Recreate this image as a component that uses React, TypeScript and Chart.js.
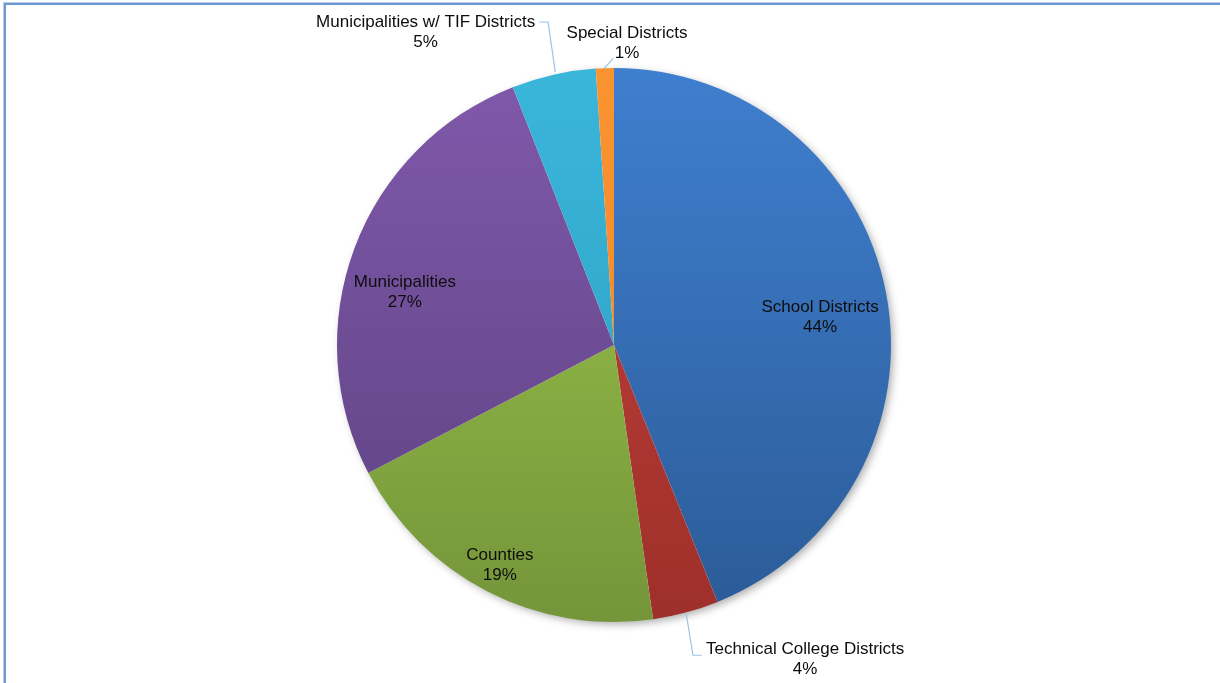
import React, { useEffect, useRef } from "react";
import { Chart, registerables } from "chart.js";

Chart.register(...registerables);

const categories: string[] = [
  "School Districts",
  "Technical College Districts",
  "Counties",
  "Municipalities",
  "Municipalities w/ TIF Districts",
  "Special Districts",
];
const shareValues: number[] = [43.9, 3.85, 19.6, 26.7, 4.9, 1.05];
const percentLabels: string[] = ["44%", "4%", "19%", "27%", "5%", "1%"];
const topColors: string[] = ["#3f7fcf", "#c5433e", "#9fc94c", "#8159ab", "#3ab6db", "#f99431"];
const bottomColors: string[] = ["#2b5b97", "#9e2f2a", "#74953a", "#5b4180", "#2c9cbd", "#ee8420"];

// label placement relative to pie centre, in units of radius
const labelPlacement = [
  { fx: 0.744, fy: -0.10, leader: null },
  { fx: 0.69, fy: 1.133, leader: [[0.26, 0.965], [0.285, 1.12], [0.317, 1.12]] },
  { fx: -0.412, fy: 0.795, leader: null },
  { fx: -0.755, fy: -0.19, leader: null },
  { fx: -0.68, fy: -1.128, leader: [[-0.212, -0.985], [-0.238, -1.166], [-0.27, -1.166]] },
  { fx: 0.047, fy: -1.09, leader: [[-0.036, -0.998], [-0.003, -1.035]] },
];

export default function App() {
  const canvasRef = useRef<HTMLCanvasElement | null>(null);

  useEffect(() => {
    const canvas = canvasRef.current;
    if (!canvas) return;

    const shadowPlugin = {
      id: "pieShadow",
      beforeDatasetsDraw(chart: any) {
        const arc = chart.getDatasetMeta(0).data[0];
        if (!arc) return;
        const { x, y, outerRadius } = arc;
        const ctx = chart.ctx;
        ctx.save();
        ctx.shadowColor = "rgba(0,0,0,0.35)";
        ctx.shadowBlur = 9;
        ctx.shadowOffsetX = 3;
        ctx.shadowOffsetY = 3;
        ctx.beginPath();
        ctx.arc(x, y, outerRadius - 1, 0, Math.PI * 2);
        ctx.fillStyle = "#ffffff";
        ctx.fill();
        ctx.restore();
      },
    };

    const labelPlugin = {
      id: "sliceLabels",
      afterDatasetsDraw(chart: any) {
        const arc = chart.getDatasetMeta(0).data[0];
        if (!arc) return;
        const cx = arc.x;
        const cy = arc.y;
        const r = arc.outerRadius;
        const ctx = chart.ctx;
        ctx.save();
        ctx.font = "17px 'Liberation Sans', Arial, sans-serif";
        ctx.textAlign = "center";
        ctx.textBaseline = "middle";
        ctx.fillStyle = "#0d0d0d";
        categories.forEach((name, i) => {
          const p = labelPlacement[i];
          const lx = cx + p.fx * r;
          const ly = cy + p.fy * r;
          if (p.leader) {
            ctx.beginPath();
            ctx.strokeStyle = "#9dc3e6";
            ctx.lineWidth = 1.2;
            p.leader.forEach((pt: number[], k: number) => {
              const px = cx + pt[0] * r;
              const py = cy + pt[1] * r;
              if (k === 0) ctx.moveTo(px, py);
              else ctx.lineTo(px, py);
            });
            ctx.stroke();
          }
          ctx.fillText(name, lx, ly - 10);
          ctx.fillText(percentLabels[i], lx, ly + 10);
        });
        ctx.restore();
      },
    };

    const chart = new Chart(canvas, {
      type: "pie",
      data: {
        labels: categories,
        datasets: [
          {
            data: shareValues,
            borderWidth: 0,
            backgroundColor: (c: any) => {
              const ch = c.chart;
              const area = ch.chartArea;
              const i = c.dataIndex;
              if (!area) return topColors[i];
              const g = ch.ctx.createLinearGradient(0, area.top, 0, area.bottom);
              g.addColorStop(0, topColors[i]);
              g.addColorStop(1, bottomColors[i]);
              return g;
            },
          },
        ],
      },
      options: {
        responsive: false,
        animation: false,
        layout: { padding: { top: 68, bottom: 61, left: 8, right: 0 } },
        plugins: {
          legend: { display: false },
          tooltip: { enabled: false },
          title: { display: false },
        },
      },
      plugins: [shadowPlugin, labelPlugin],
    });

    return () => chart.destroy();
  }, []);

  return (
    <div style={{ position: "fixed", left: 0, top: 0, width: 1220, height: 683, background: "#fff", overflow: "hidden" }}>
      <div
        style={{
          position: "absolute",
          left: 4,
          top: 3,
          width: 1240,
          height: 700,
          borderTop: "2px solid #6f97cf",
          borderLeft: "2px solid #6f97cf",
          boxShadow: "-1px -1px 0 #b9cde9",
        }}
      />
      <canvas ref={canvasRef} width={1220} height={683} style={{ position: "absolute", left: 0, top: 0 }} />
    </div>
  );
}
